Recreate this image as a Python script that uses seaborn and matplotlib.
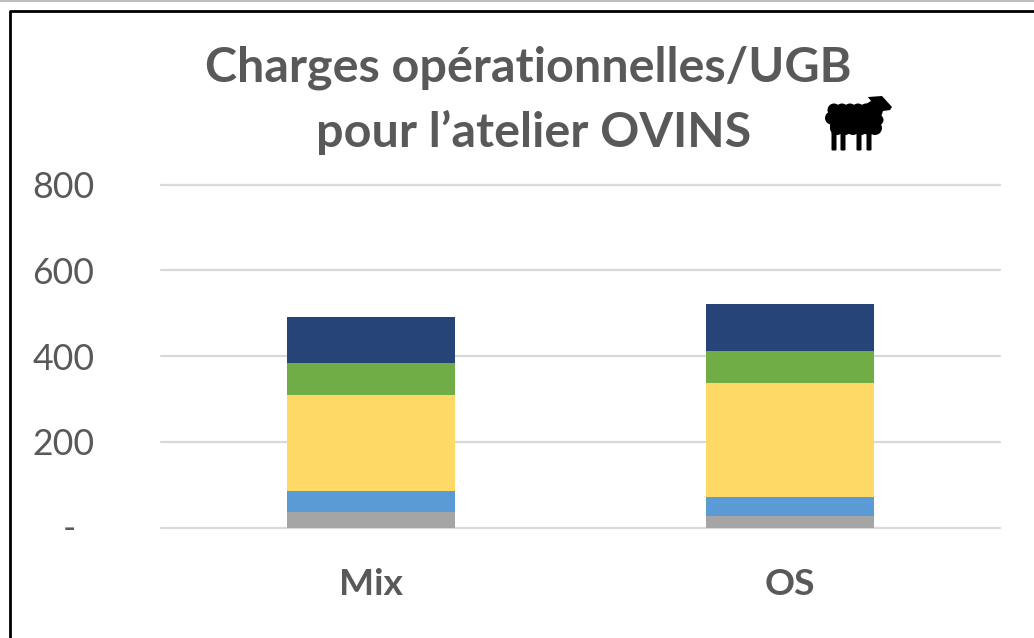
import matplotlib
matplotlib.use("Agg")
import matplotlib.pyplot as plt
import matplotlib.transforms as mtrans
import seaborn as sns
import pandas as pd
from matplotlib.patches import Circle, Polygon, Rectangle, FancyBboxPatch
from matplotlib.lines import Line2D

categories = ["Mix", "OS"]
gris = [35, 27]
bleu = [50, 44]
jaune = [224, 266]
vert = [74, 75]
marine = [109, 109]
series_names = ["Gris", "Bleu", "Jaune", "Vert", "Marine"]
series_values = [gris, bleu, jaune, vert, marine]
series_colors = ["#A5A5A5", "#5B9BD5", "#FFD966", "#70AD47", "#264478"]
tick_values = [0, 200, 400, 600, 800]
tick_labels = ["-", "200", "400", "600", "800"]

sns.set_theme(style="white")
plt.rcParams["font.family"] = ["Lato", "DejaVu Sans"]
W, H = 1034, 638
fig = plt.figure(figsize=(W / 100, H / 100), dpi=100, facecolor="white")
ax = fig.add_axes([161 / W, 1 - 527.5 / H, 839 / W, 343 / H])

bottom = [0, 0]
for name, vals, col in zip(series_names, series_values, series_colors):
    df = pd.DataFrame({"cat": categories, "val": vals})
    sns.barplot(data=df, x="cat", y="val", color=col, saturation=1, width=0.4,
                bottom=bottom, ax=ax, edgecolor="none", zorder=3, errorbar=None)
    bottom = [b + v for b, v in zip(bottom, vals)]

ax.set_xlim(-0.5, 1.5)
ax.set_ylim(0, 800)
ax.set_yticks(tick_values)
ax.set_yticklabels(tick_labels)
ax.set_xlabel("")
ax.set_ylabel("")
ax.grid(axis="y", color="#D9D9D9", lw=1.6, zorder=0)
for gl in ax.get_ygridlines():
    gl.set_clip_on(False)
ax.set_axisbelow(True)
for s in ax.spines.values():
    s.set_visible(False)
ax.tick_params(axis="y", length=0, pad=48, labelsize=25.7, labelcolor="#595959")
ax.tick_params(axis="x", length=0, pad=29, labelsize=26.8, labelcolor="#595959")
for t in ax.get_xticklabels():
    t.set_fontweight("bold")
# the "-" of the zero tick sits left of the right-aligned numbers in the source
dash = ax.get_yticklabels()[0]
dash.set_transform(dash.get_transform() + mtrans.Affine2D().translate(-18, 1))

# overlay in pixel coordinates: frame, title, sheep icon
ov = fig.add_axes([0, 0, 1, 1], facecolor="none")
ov.set_xlim(0, W)
ov.set_ylim(H, 0)
ov.axis("off")
ov.add_line(Line2D([0, W], [0.5, 0.5], color="#BFBFBF", lw=1.5))
ov.add_line(Line2D([9.5, 9.5, W], [H, 10.5, 10.5], color="black", lw=2))
ov.text(528, 68, "Charges opérationnelles/UGB", ha="center", va="center",
        fontsize=34.9, fontweight="bold", color="#595959")
ov.text(534, 132, "pour l’atelier OVINS", ha="center", va="center",
        fontsize=34.9, fontweight="bold", color="#595959")

bk = "black"
for cx in (834, 842, 850, 858, 866, 874):
    ov.add_patch(Circle((cx, 110), 6.5, color=bk, lw=0))
for cx in (837, 845, 853, 861, 869, 875):
    ov.add_patch(Circle((cx, 128), 7, color=bk, lw=0))
ov.add_patch(Rectangle((830, 108), 48, 22, color=bk, lw=0))
ov.add_patch(Circle((831.5, 118), 6.5, color=bk, lw=0))
ov.add_patch(Circle((878, 120), 5.5, color=bk, lw=0))
ov.add_patch(Polygon([(866, 104), (871, 101), (868, 97), (882, 96), (892, 107),
                      (890, 110), (883, 111), (880, 120), (866, 120)], color=bk, lw=0))
for lx, ly in ((834, 151), (843, 151), (859, 151), (869, 151)):
    ov.add_patch(FancyBboxPatch((lx - 1.5, 130), 3, ly - 131.5,
                                boxstyle="round,pad=1", color=bk, lw=0))

fig.savefig("out.png", dpi=100)
